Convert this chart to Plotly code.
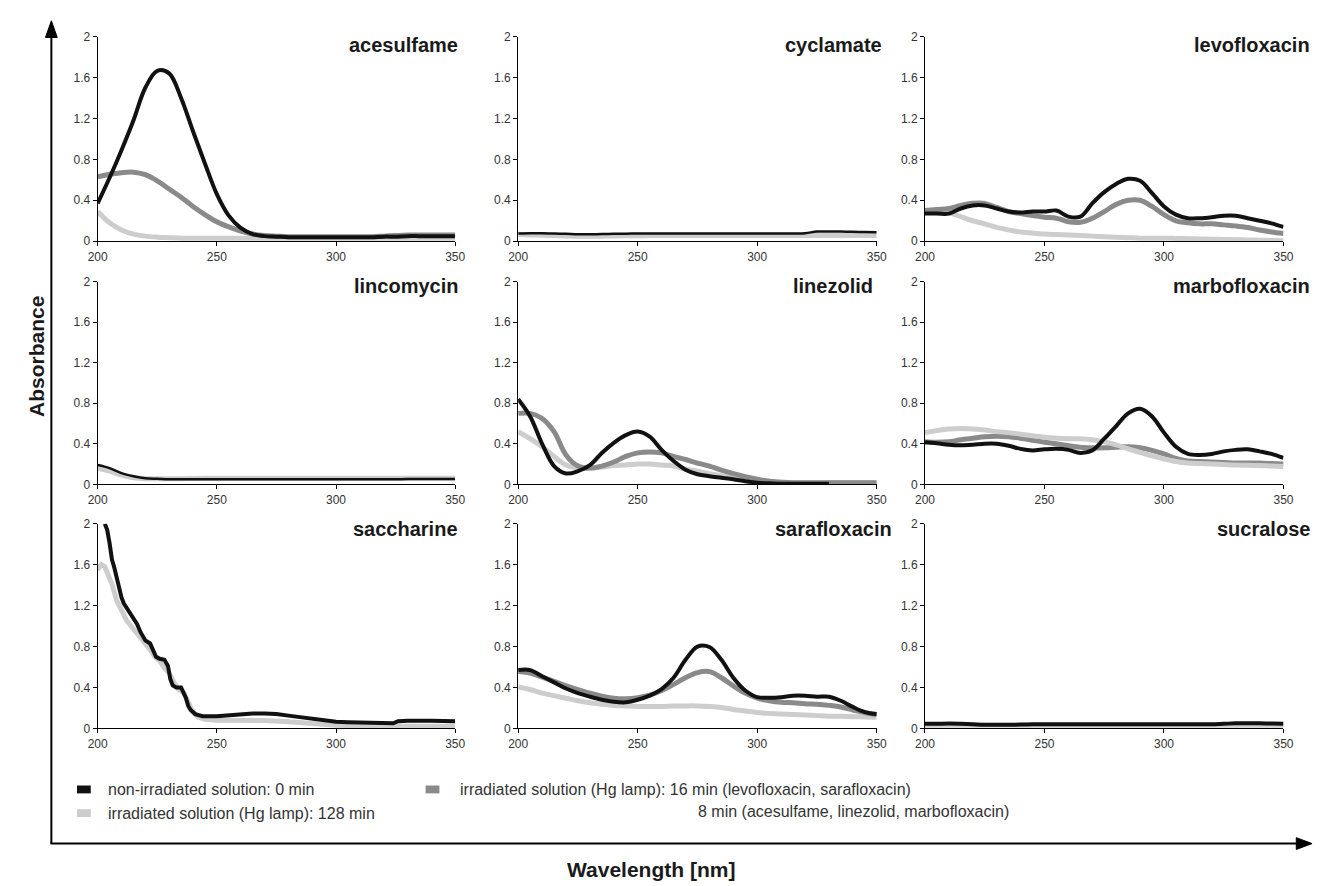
import plotly.graph_objects as go

W, H = 1325, 886

# ---------------- data ----------------
WL = [200, 205, 210, 215, 220, 225, 230, 235, 240, 245, 250, 255, 260, 265, 270, 275,
      280, 285, 290, 295, 300, 305, 310, 315, 320, 325, 330, 335, 340, 345, 350]

compounds = ["acesulfame", "cyclamate", "levofloxacin",
             "lincomycin", "linezolid", "marbofloxacin",
             "saccharine", "sarafloxacin", "sucralose"]

# acesulfame
ace_black = [0.37, 0.62, 0.89, 1.18, 1.50, 1.665, 1.64, 1.40, 1.075, 0.76, 0.46, 0.25, 0.13, 0.07, 0.05, 0.045,
             0.04, 0.04, 0.04, 0.04, 0.04, 0.04, 0.04, 0.04, 0.045, 0.045, 0.05, 0.05, 0.05, 0.05, 0.05]
ace_gray = [0.63, 0.655, 0.67, 0.675, 0.65, 0.59, 0.51, 0.43, 0.34, 0.26, 0.19, 0.14, 0.10, 0.07, 0.055, 0.05,
            0.045, 0.045, 0.045, 0.045, 0.045, 0.045, 0.045, 0.045, 0.05, 0.055, 0.06, 0.06, 0.06, 0.06, 0.06]
ace_light = [0.29, 0.18, 0.11, 0.07, 0.05, 0.04, 0.035, 0.03, 0.03, 0.03, 0.03, 0.03, 0.03, 0.03, 0.03, 0.03,
             0.03, 0.03, 0.03, 0.03, 0.03, 0.03, 0.03, 0.03, 0.03, 0.03, 0.03, 0.03, 0.03, 0.03, 0.03]

# cyclamate
cyc_black = [0.075, 0.078, 0.078, 0.075, 0.072, 0.068, 0.068, 0.07, 0.072, 0.074, 0.075, 0.075, 0.075, 0.076, 0.076, 0.076,
             0.076, 0.076, 0.076, 0.076, 0.076, 0.076, 0.076, 0.076, 0.078, 0.095, 0.095, 0.094, 0.092, 0.09, 0.088]
cyc_light = [0.068, 0.062, 0.058, 0.055, 0.052, 0.05, 0.05, 0.05, 0.052, 0.053, 0.054, 0.055, 0.055, 0.055, 0.055, 0.055,
             0.055, 0.055, 0.055, 0.055, 0.055, 0.055, 0.055, 0.055, 0.055, 0.055, 0.055, 0.055, 0.055, 0.055, 0.055]

# levofloxacin
levo_black = [0.27, 0.27, 0.27, 0.32, 0.35, 0.35, 0.32, 0.29, 0.28, 0.29, 0.29, 0.30, 0.24, 0.24, 0.37, 0.48,
              0.56, 0.61, 0.59, 0.47, 0.34, 0.26, 0.225, 0.225, 0.235, 0.25, 0.25, 0.225, 0.20, 0.175, 0.14]
levo_gray = [0.30, 0.31, 0.32, 0.35, 0.37, 0.37, 0.33, 0.29, 0.27, 0.25, 0.235, 0.225, 0.19, 0.185, 0.225, 0.29,
             0.36, 0.40, 0.40, 0.34, 0.26, 0.20, 0.18, 0.17, 0.17, 0.16, 0.15, 0.135, 0.11, 0.09, 0.075]
levo_light = [0.30, 0.30, 0.28, 0.24, 0.20, 0.17, 0.135, 0.11, 0.09, 0.08, 0.07, 0.065, 0.06, 0.055, 0.05, 0.045,
              0.04, 0.035, 0.03, 0.03, 0.03, 0.028, 0.025, 0.022, 0.02, 0.018, 0.015, 0.012, 0.01, 0.008, 0.005]

# lincomycin
linc_black = [0.19, 0.16, 0.11, 0.08, 0.06, 0.055, 0.05, 0.05, 0.05, 0.05, 0.05, 0.05, 0.05, 0.05, 0.05, 0.05,
              0.05, 0.05, 0.05, 0.05, 0.05, 0.05, 0.05, 0.05, 0.05, 0.05, 0.052, 0.052, 0.052, 0.052, 0.052]
linc_light = [0.16, 0.13, 0.09, 0.065, 0.055, 0.055, 0.055, 0.055, 0.058, 0.06, 0.06, 0.06, 0.06, 0.06, 0.06, 0.06,
              0.06, 0.06, 0.06, 0.06, 0.06, 0.06, 0.06, 0.06, 0.06, 0.06, 0.06, 0.06, 0.06, 0.06, 0.06]

# linezolid
line_black = [0.84, 0.67, 0.40, 0.18, 0.107, 0.13, 0.19, 0.31, 0.41, 0.485, 0.52, 0.47, 0.34, 0.23, 0.145, 0.10,
              0.08, 0.065, 0.05, 0.03, 0.015, 0.01, 0.005, 0.005, 0.005, 0.005, 0.005, None, None, None, None]
line_gray = [0.70, 0.70, 0.65, 0.52, 0.29, 0.18, 0.16, 0.18, 0.22, 0.275, 0.31, 0.32, 0.31, 0.275, 0.245, 0.21,
             0.18, 0.14, 0.105, 0.075, 0.05, 0.03, 0.02, 0.015, 0.015, 0.015, 0.015, 0.015, 0.015, 0.015, 0.015]
line_light = [0.52, 0.45, 0.37, 0.275, 0.19, 0.16, 0.16, 0.17, 0.185, 0.19, 0.20, 0.20, 0.19, 0.18, 0.15, 0.13,
              0.105, 0.085, 0.07, 0.05, 0.04, 0.03, 0.02, 0.015, 0.015, 0.015, 0.015, 0.015, 0.015, 0.015, 0.015]

# marbofloxacin
marb_black = [0.415, 0.405, 0.39, 0.385, 0.39, 0.40, 0.40, 0.38, 0.35, 0.335, 0.345, 0.35, 0.34, 0.31, 0.335, 0.45,
              0.575, 0.70, 0.745, 0.67, 0.51, 0.37, 0.30, 0.29, 0.30, 0.325, 0.34, 0.345, 0.325, 0.30, 0.26]
marb_gray = [0.42, 0.415, 0.42, 0.44, 0.455, 0.47, 0.475, 0.47, 0.455, 0.435, 0.415, 0.40, 0.38, 0.365, 0.36, 0.36,
             0.365, 0.37, 0.36, 0.335, 0.30, 0.255, 0.23, 0.225, 0.22, 0.215, 0.21, 0.21, 0.21, 0.205, 0.20]
marb_light = [0.51, 0.53, 0.545, 0.55, 0.545, 0.535, 0.52, 0.51, 0.495, 0.48, 0.465, 0.455, 0.45, 0.45, 0.44, 0.42,
              0.39, 0.35, 0.315, 0.28, 0.25, 0.225, 0.21, 0.205, 0.20, 0.195, 0.19, 0.188, 0.185, 0.18, 0.175]

# saccharine (finer sampling)
sac_black_wl = [203, 204, 205, 206, 207, 208, 209, 210, 211, 213, 215, 216.5, 218, 220, 222, 223.5, 224.5, 226,
                228, 229.5, 230.5, 231.5, 233, 235, 236, 237, 238, 239, 241, 244, 250, 255, 260, 265, 270,
                275, 280, 285, 290, 295, 300, 305, 310, 315, 320, 324, 326, 330, 340, 350]
sac_black = [2.0, 1.94, 1.81, 1.65, 1.57, 1.47, 1.34, 1.28, 1.22, 1.15, 1.09, 1.02, 0.94, 0.86, 0.83, 0.75, 0.70, 0.68,
             0.67, 0.61, 0.48, 0.42, 0.40, 0.40, 0.35, 0.30, 0.22, 0.18, 0.14, 0.12, 0.12, 0.13, 0.14, 0.145, 0.145,
             0.14, 0.125, 0.11, 0.09, 0.075, 0.065, 0.06, 0.055, 0.05, 0.05, 0.05, 0.07, 0.075, 0.075, 0.07]
sac_light_wl = [200, 201.5, 203, 204, 206, 208, 210, 212, 214, 216, 218, 220, 222, 224, 226, 228, 230, 232, 234,
                236, 238, 240, 242, 245, 250, 260, 270, 280, 290, 300, 310, 320, 335, 350]
sac_light = [1.55, 1.60, 1.58, 1.52, 1.41, 1.25, 1.14, 1.06, 1.00, 0.94, 0.90, 0.83, 0.77, 0.70, 0.66, 0.59, 0.54,
             0.45, 0.38, 0.35, 0.26, 0.16, 0.11, 0.09, 0.08, 0.08, 0.077, 0.065, 0.045, 0.03, 0.025, 0.02, 0.02, 0.02]

# sarafloxacin
sara_black = [0.57, 0.57, 0.51, 0.45, 0.39, 0.345, 0.31, 0.28, 0.26, 0.255, 0.28, 0.32, 0.385, 0.495, 0.67, 0.80,
              0.795, 0.67, 0.495, 0.37, 0.305, 0.30, 0.305, 0.32, 0.32, 0.31, 0.31, 0.27, 0.21, 0.16, 0.14]
sara_gray = [0.555, 0.54, 0.50, 0.46, 0.415, 0.38, 0.345, 0.315, 0.295, 0.29, 0.30, 0.325, 0.37, 0.43, 0.495, 0.545,
             0.555, 0.495, 0.415, 0.345, 0.295, 0.27, 0.255, 0.25, 0.24, 0.235, 0.225, 0.21, 0.18, 0.155, 0.135]
sara_light = [0.405, 0.38, 0.345, 0.32, 0.295, 0.27, 0.25, 0.235, 0.225, 0.22, 0.215, 0.215, 0.215, 0.218, 0.22, 0.22,
              0.215, 0.205, 0.185, 0.17, 0.155, 0.147, 0.14, 0.135, 0.13, 0.125, 0.12, 0.118, 0.115, 0.112, 0.11]

# sucralose
sucr_black = [0.045, 0.045, 0.048, 0.045, 0.04, 0.035, 0.035, 0.035, 0.038, 0.04, 0.04, 0.04, 0.04, 0.04, 0.04, 0.04,
              0.04, 0.04, 0.04, 0.04, 0.04, 0.04, 0.04, 0.04, 0.04, 0.045, 0.05, 0.05, 0.05, 0.048, 0.045]
sucr_light = [0.03, 0.03, 0.03, 0.03, 0.03, 0.03, 0.03, 0.03, 0.03, 0.03, 0.03, 0.03, 0.03, 0.03, 0.03, 0.03,
              0.03, 0.03, 0.03, 0.03, 0.03, 0.03, 0.03, 0.03, 0.03, 0.03, 0.03, 0.03, 0.03, 0.03, 0.03]

# (x, y) per series, per panel : light (128 min), gray (16/8 min), black (0 min)
panel_series = {
    "acesulfame": [(WL, ace_light), (WL, ace_gray), (WL, ace_black)],
    "cyclamate": [(WL, cyc_light), None, (WL, cyc_black)],
    "levofloxacin": [(WL, levo_light), (WL, levo_gray), (WL, levo_black)],
    "lincomycin": [(WL, linc_light), None, (WL, linc_black)],
    "linezolid": [(WL, line_light), (WL, line_gray), (WL, line_black)],
    "marbofloxacin": [(WL, marb_gray), (WL, marb_light), (WL, marb_black)],
    "saccharine": [(sac_light_wl, sac_light), None, (sac_black_wl, sac_black)],
    "sarafloxacin": [(WL, sara_light), (WL, sara_gray), (WL, sara_black)],
    "sucralose": [(WL, sucr_light), None, (WL, sucr_black)],
}

x_ticks = [200, 250, 300, 350]
y_ticks = [0, 0.4, 0.8, 1.2, 1.6, 2]
y_tick_text = ["0", "0.4", "0.8", "1.2", "1.6", "2"]

legend_texts = ["non-irradiated solution: 0 min",
                "irradiated solution (Hg lamp): 128 min",
                "irradiated solution (Hg lamp): 16 min (levofloxacin, sarafloxacin)",
                "8 min (acesulfame, linezolid, marbofloxacin)"]

# ---------------- style / layout ----------------
BLACK, GRAY, LIGHT = "#111111", "#8a8a8a", "#cdcdcd"
FONT = "Liberation Sans, Arial, sans-serif"


def px(x):
    return x / W


def py(y):
    return 1 - y / H


col_px = [(89, 452), (516, 880), (929, 1293)]
row_px = [(30, 238), (279, 485), (525, 733)]

fig = go.Figure()
layout = dict(width=W, height=H, margin=dict(l=0, r=0, t=0, b=0),
              paper_bgcolor="white", plot_bgcolor="white", showlegend=False,
              font=dict(family=FONT))
annotations = []
shapes = []

title_pos = {
    0: ("right", 457), 1: ("center", 836), 2: ("right", 1322)
}
title_y = [39, 283, 530]

for i, name in enumerate(compounds):
    r, c = divmod(i, 3)
    sfx = "" if i == 0 else str(i + 1)
    xa, ya = "x" + sfx, "y" + sfx
    layout["xaxis" + sfx] = dict(
        domain=[px(col_px[c][0]), px(col_px[c][1])], range=[200, 350], anchor=ya,
        tickvals=x_ticks, showline=True, linecolor="black", linewidth=1,
        ticks="outside", ticklen=4, tickcolor="black",
        tickfont=dict(size=12, color="#333333", family=FONT),
        showgrid=False, zeroline=False, fixedrange=True)
    layout["yaxis" + sfx] = dict(
        domain=[py(row_px[r][1]), py(row_px[r][0])], range=[0, 2], anchor=xa,
        tickvals=y_ticks, ticktext=y_tick_text, showline=True, linecolor="black",
        linewidth=1, ticks="outside", ticklen=4, tickcolor="black",
        tickfont=dict(size=12, color="#333333", family=FONT),
        showgrid=False, zeroline=False, fixedrange=True)

    series = panel_series[name]
    if name == "marbofloxacin":
        styles = [(GRAY, 5), (LIGHT, 5), (BLACK, 4)]
    elif name in ("lincomycin", "cyclamate"):
        styles = [(LIGHT, 5), (GRAY, 5), (BLACK, 2.5)]
    else:
        styles = [(LIGHT, 5), (GRAY, 5), (BLACK, 4)]
    for s, (col, w) in zip(series, styles):
        if s is None:
            continue
        xs, ys = s
        shape = "linear" if name == "saccharine" else "spline"
        fig.add_trace(go.Scatter(x=xs, y=ys, xaxis=xa, yaxis=ya, mode="lines",
                                 line=dict(color=col, width=w, shape=shape),
                                 connectgaps=False, hoverinfo="skip"))

    anchor, tx = title_pos[c]
    annotations.append(dict(text="<b>%s</b>" % name, xref="paper", yref="paper",
                            x=px(tx), y=py(title_y[r]), xanchor=anchor, yanchor="middle",
                            showarrow=False, font=dict(size=20, color="#1a1a1a", family=FONT)))

# big axes with arrows
shapes.append(dict(type="line", xref="paper", yref="paper", x0=px(42), y0=py(850),
                   x1=px(42), y1=py(28), line=dict(color="black", width=2)))
shapes.append(dict(type="path", xref="paper", yref="paper",
                   path="M %f %f L %f %f L %f %f Z" % (px(42), py(14), px(36), py(31), px(48), py(31)),
                   fillcolor="black", line=dict(color="black", width=1)))
shapes.append(dict(type="line", xref="paper", yref="paper", x0=px(41), y0=py(850),
                   x1=px(1310), y1=py(850), line=dict(color="black", width=2)))
shapes.append(dict(type="path", xref="paper", yref="paper",
                   path="M %f %f L %f %f L %f %f Z" % (px(1322), py(850), px(1306), py(844), px(1306), py(856)),
                   fillcolor="black", line=dict(color="black", width=1)))

annotations.append(dict(text="<b>Absorbance</b>", xref="paper", yref="paper", x=px(27), y=py(355),
                        textangle=-90, showarrow=False, xanchor="center", yanchor="middle",
                        font=dict(size=21, color="#1a1a1a", family=FONT)))
annotations.append(dict(text="<b>Wavelength [nm]</b>", xref="paper", yref="paper", x=px(651), y=py(876),
                        showarrow=False, xanchor="center", yanchor="middle",
                        font=dict(size=21, color="#1a1a1a", family=FONT)))

# legend
leg_items = [(BLACK, 68, 795, legend_texts[0], 97, 795),
             (LIGHT, 68, 819, legend_texts[1], 97, 819),
             (GRAY, 422, 795, legend_texts[2], 455, 795)]
for col, sx, sy, txt, tx, ty in leg_items:
    shapes.append(dict(type="rect", xref="paper", yref="paper", x0=px(sx), x1=px(sx + 14),
                       y0=py(sy + 4), y1=py(sy - 4), fillcolor=col, line=dict(width=0)))
    annotations.append(dict(text=txt, xref="paper", yref="paper", x=px(tx), y=py(ty),
                            xanchor="left", yanchor="middle", showarrow=False,
                            font=dict(size=16, color="#333333", family=FONT)))
annotations.append(dict(text=legend_texts[3], xref="paper", yref="paper", x=px(697), y=py(817),
                        xanchor="left", yanchor="middle", showarrow=False,
                        font=dict(size=16, color="#333333", family=FONT)))

layout["annotations"] = annotations
layout["shapes"] = shapes
fig.update_layout(**layout)
fig.write_html("out.html")
